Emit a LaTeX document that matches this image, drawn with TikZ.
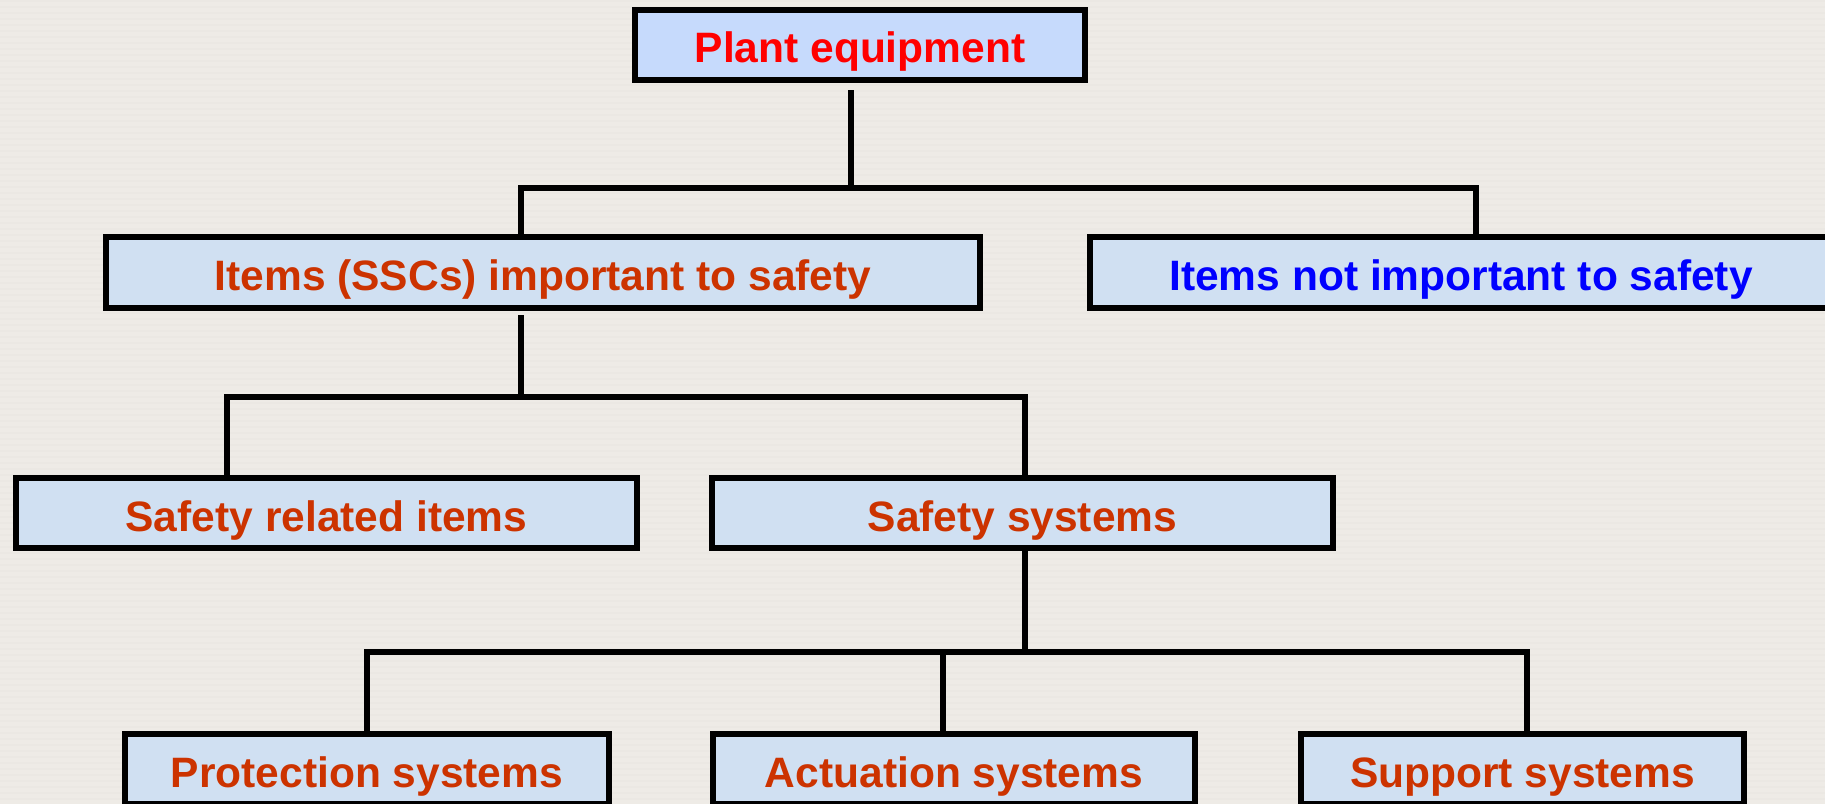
\documentclass[tikz,border=0pt]{standalone}
\usepackage{fontspec}
\setmainfont{Liberation Sans}
\definecolor{paper}{HTML}{EEEBE6}
\definecolor{paperline}{HTML}{E9E6E1}
\definecolor{topfill}{HTML}{C6DAFC}
\definecolor{boxfill}{HTML}{D0E0F2}
\definecolor{redtext}{HTML}{FF0000}
\definecolor{orangetext}{HTML}{CC3300}
\definecolor{bluetext}{HTML}{0000FF}
\tikzset{
  orgbox/.style={draw=black, line width=0.12cm, fill=boxfill, inner sep=0pt,
    text height=0.72cm, text depth=0pt, text=orangetext,
    font=\fontsize{24.2pt}{28pt}\selectfont\bfseries},
  link/.style={draw=black, line width=0.115cm, line join=miter, line cap=rect}
}
\begin{document}
\begin{tikzpicture}[x=0.02cm, y=-0.02cm]
  % page and faint horizontal banding of the paper
  \useasboundingbox (0,0) rectangle (1825,804);
  \clip (0,0) rectangle (1825,804);
  \fill[paper] (0,0) rectangle (1825,804);
  \foreach \k in {0,6,...,804} {
    \fill[paperline, opacity=0.45] (0,\k) rectangle (1825,\k+2);
  }

  % boxes
  \node[orgbox, fill=topfill, text=redtext, minimum width=9.0cm, minimum height=1.4cm]
    (plant) at (860,45) {Plant equipment};
  \node[orgbox, minimum width=17.48cm, minimum height=1.42cm]
    (ssc) at (543,272.5) {Items (SSCs) important to safety};
  \node[orgbox, text=bluetext, minimum width=14.84cm, minimum height=1.42cm]
    (notimp) at (1461,272.5) {Items not important to safety};
  \node[orgbox, minimum width=12.42cm, minimum height=1.4cm]
    (sri) at (326.5,513) {Safety related items};
  \node[orgbox, minimum width=12.42cm, minimum height=1.4cm]
    (ss) at (1022.5,513) {Safety systems};
  \node[orgbox, minimum width=9.68cm, minimum height=1.4cm]
    (prot) at (367,769) {Protection systems};
  \node[orgbox, minimum width=9.64cm, minimum height=1.4cm]
    (act) at (954,769) {Actuation systems};
  \node[orgbox, minimum width=8.86cm, minimum height=1.4cm]
    (sup) at (1522.5,769) {Support systems};

  % junction points of the tree
  \coordinate (p0) at (851,93);
  \coordinate (p1) at (851,188);
  \coordinate (a1) at (521,188);
  \coordinate (a2) at (1476,188);
  \coordinate (q0) at (521,318);
  \coordinate (q1) at (521,397);
  \coordinate (b1) at (227,397);
  \coordinate (b2) at (1025,397);
  \coordinate (r1) at (1025,652);
  \coordinate (c1) at (367,652);
  \coordinate (c2) at (943,652);
  \coordinate (c3) at (1527,652);

  % connectors
  \draw[link] (p0) -- (p1);
  \draw[link] (a1 |- ssc.north) -- (a1) -- (a2) -- (a2 |- notimp.north);
  \draw[link] (q0) -- (q1);
  \draw[link] (b1 |- sri.north) -- (b1) -- (b2) -- (b2 |- ss.north);
  \draw[link] (r1 |- ss.south) -- (r1);
  \draw[link] (c1 |- prot.north) -- (c1) -- (c3) -- (c3 |- sup.north);
  \draw[link] (c2) -- (c2 |- act.north);
\end{tikzpicture}
\end{document}
